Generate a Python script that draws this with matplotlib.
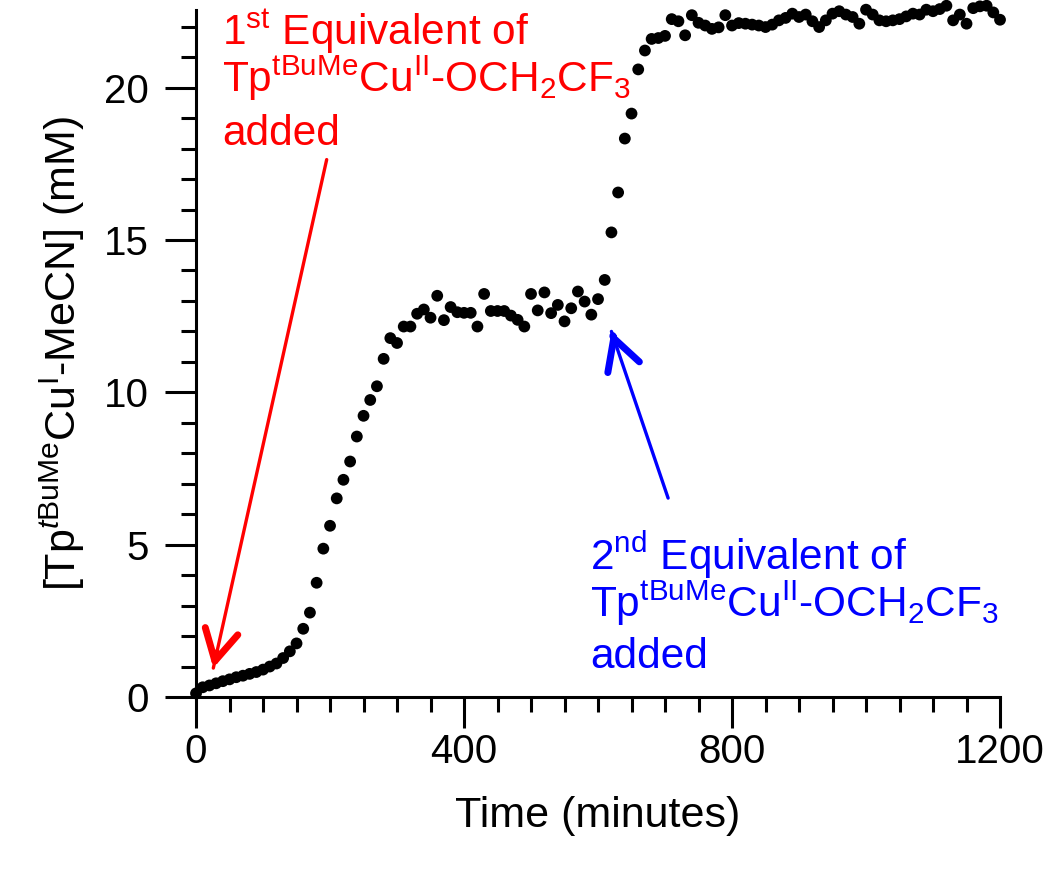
import matplotlib
matplotlib.use("Agg")
import matplotlib.pyplot as plt
from matplotlib.ticker import MultipleLocator
import numpy as np

plt.rcParams["font.family"] = ["Liberation Sans", "DejaVu Sans"]
plt.rcParams["mathtext.fontset"] = "custom"
plt.rcParams["mathtext.rm"] = "Liberation Sans"
plt.rcParams["mathtext.it"] = "Liberation Sans:italic"
plt.rcParams["mathtext.bf"] = "Liberation Sans:bold"

# time points (minutes) and [Cu(I)-MeCN] (mM)
time_min = np.arange(0, 1201, 10)
conc_mM = [
    0.12, 0.32, 0.38, 0.45, 0.52, 0.58, 0.65, 0.70, 0.76, 0.82,
    0.90, 1.00, 1.10, 1.28, 1.50, 1.76, 2.24, 2.77, 3.75, 4.87,
    5.62, 6.52, 7.13, 7.73, 8.55, 9.23, 9.75, 10.20, 11.10, 11.78,
    11.62, 12.16, 12.16, 12.58, 12.72, 12.45, 13.17, 12.37, 12.80, 12.63,
    12.61, 12.61, 12.16, 13.23, 12.67, 12.67, 12.67, 12.52, 12.38, 12.16,
    13.23, 12.69, 13.28, 12.60, 12.87, 12.33, 12.76, 13.31, 12.98, 12.55,
    13.06, 13.69, 15.25, 16.56, 18.33, 19.15, 20.60, 21.22, 21.60, 21.63,
    21.70, 22.25, 22.18, 21.72, 22.38, 22.13, 22.04, 21.93, 21.98, 22.38,
    22.04, 22.12, 22.10, 22.07, 22.04, 21.99, 22.07, 22.21, 22.29, 22.43,
    22.32, 22.40, 22.18, 21.99, 22.21, 22.43, 22.51, 22.40, 22.32, 22.10,
    22.56, 22.40, 22.21, 22.18, 22.21, 22.25, 22.34, 22.43, 22.40, 22.56,
    22.51, 22.58, 22.69, 22.21, 22.40, 22.10, 22.61, 22.67, 22.69, 22.47,
    22.23,
]

x_ticks = [0, 400, 800, 1200]
y_ticks = [0, 5, 10, 15, 20]

first_lines = [
    r"1$^{\mathrm{st}}$ Equivalent of",
    r"Tp$^{\mathrm{tBuMe}}$Cu$^{\mathrm{II}}$-OCH$_{\mathrm{2}}$CF$_{\mathrm{3}}$",
    "added",
]
second_lines = [
    r"2$^{\mathrm{nd}}$ Equivalent of",
    r"Tp$^{\mathrm{tBuMe}}$Cu$^{\mathrm{II}}$-OCH$_{\mathrm{2}}$CF$_{\mathrm{3}}$",
    "added",
]

fig = plt.figure(figsize=(10.5, 8.69), dpi=100)
ax = fig.add_axes([0.1867, 0.1979, 0.7657, 0.7906])

ax.scatter(time_min, conc_mM, s=72, color="black", edgecolors="none",
           clip_on=False, zorder=3)

ax.set_xlim(0, 1200)
ax.set_ylim(0, 22.55)
ax.set_xticks(x_ticks)
ax.set_yticks(y_ticks)
ax.xaxis.set_minor_locator(MultipleLocator(50))
ax.yaxis.set_minor_locator(MultipleLocator(1))

for side in ["top", "right"]:
    ax.spines[side].set_visible(False)
for side in ["left", "bottom"]:
    ax.spines[side].set_linewidth(2.2)

ax.tick_params(which="major", direction="out", length=22, width=2.2,
               labelsize=29, pad=4)
ax.tick_params(which="minor", direction="out", length=11, width=2.2)
ax.tick_params(axis="y", which="major", pad=12)

ax.set_xlabel("Time (minutes)", fontsize=31, labelpad=18)
ax.set_ylabel(r"[Tp$^{\mathit{t}\mathrm{BuMe}}$Cu$^{\mathrm{I}}$-MeCN] (mM)",
              fontsize=31, labelpad=12)

# annotations
red = "#ff0000"
blue = "#0000ff"
for line, yv in zip(first_lines, [21.41, 19.87, 18.13]):
    ax.text(39, yv, line, color=red, fontsize=30.5, va="baseline", ha="left")
for line, yv in zip(second_lines, [4.17, 2.63, 0.95]):
    ax.text(588, yv, line, color=blue, fontsize=30.5, va="baseline", ha="left")


def draw_arrow(tip, tail, color):
    ax.annotate("", xy=tip, xytext=tail,
                arrowprops=dict(arrowstyle="-", lw=2.4, color=color,
                                shrinkA=0, shrinkB=0))
    back = (tip[0] + (tail[0] - tip[0]) * 0.03, tip[1] + (tail[1] - tip[1]) * 0.03)
    ax.annotate("", xy=tip, xytext=back,
                arrowprops=dict(arrowstyle="->,head_length=1.1,head_width=0.6",
                                lw=5, color=color, shrinkA=0, shrinkB=0,
                                mutation_scale=20, capstyle="round",
                                joinstyle="round"))


draw_arrow((25.8, 0.95), (195, 17.64), red)
draw_arrow((620, 12.0), (704.6, 6.53), blue)

fig.savefig("out.png", dpi=100)
